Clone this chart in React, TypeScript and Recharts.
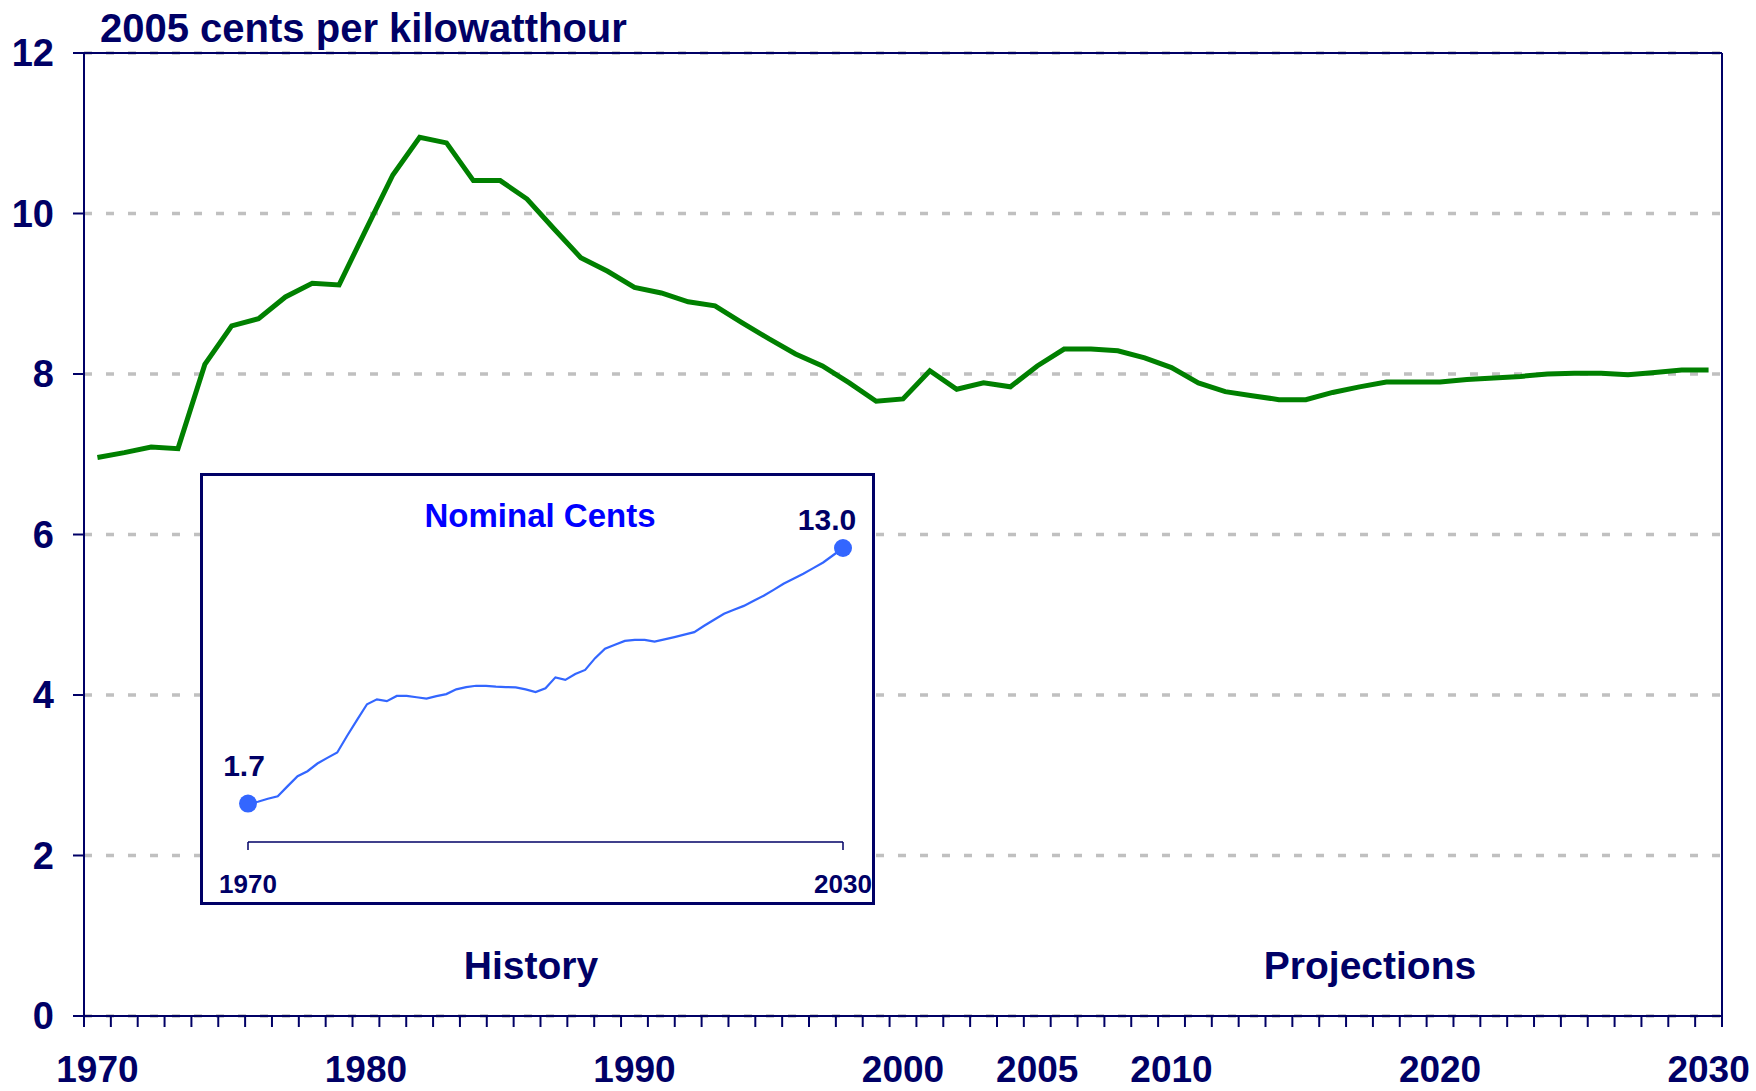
import { LineChart, Line, XAxis, YAxis, CartesianGrid, ReferenceLine } from 'recharts'

const years = [
  1970, 1971, 1972, 1973, 1974, 1975, 1976, 1977, 1978, 1979,
  1980, 1981, 1982, 1983, 1984, 1985, 1986, 1987, 1988, 1989,
  1990, 1991, 1992, 1993, 1994, 1995, 1996, 1997, 1998, 1999,
  2000, 2001, 2002, 2003, 2004, 2005, 2006, 2007, 2008, 2009,
  2010, 2011, 2012, 2013, 2014, 2015, 2016, 2017, 2018, 2019,
  2020, 2021, 2022, 2023, 2024, 2025, 2026, 2027, 2028, 2029,
  2030,
]

// 2005 cents per kWh
const realCents = [
  6.96, 7.02, 7.09, 7.07, 8.12, 8.6, 8.69, 8.96, 9.13, 9.11,
  9.8, 10.48, 10.95, 10.88, 10.41, 10.41, 10.18, 9.81, 9.45, 9.28,
  9.08, 9.01, 8.9, 8.85, 8.64, 8.44, 8.25, 8.1, 7.89, 7.66,
  7.69, 8.04, 7.81, 7.89, 7.84, 8.1, 8.31, 8.31, 8.29, 8.2,
  8.08, 7.89, 7.78, 7.73, 7.68, 7.68, 7.77, 7.84, 7.9, 7.9,
  7.9, 7.93, 7.95, 7.97, 8.0, 8.01, 8.01, 7.99, 8.02, 8.05,
  8.05,
]

// nominal cents per kWh (inset)
const nominalCents = [
  1.7, 1.78, 1.91, 2.02, 2.47, 2.91, 3.13, 3.47, 3.72, 3.96,
  4.7, 5.4, 6.09, 6.31, 6.23, 6.46, 6.46, 6.4, 6.34, 6.45,
  6.54, 6.75, 6.85, 6.91, 6.9, 6.87, 6.85, 6.84, 6.75, 6.63,
  6.8, 7.28, 7.17, 7.43, 7.61, 8.13, 8.55, 8.72, 8.89, 8.94,
  8.94, 8.86, 8.96, 9.06, 9.17, 9.28, 9.56, 9.83, 10.09, 10.27,
  10.44, 10.67, 10.89, 11.15, 11.42, 11.64, 11.86, 12.11, 12.36, 12.68,
  13.0,
]

const yearLabels = [1970, 1980, 1990, 2000, 2005, 2010, 2020, 2030]
const centTicks = [0, 2, 4, 6, 8, 10, 12]
const insetTicks = [1970, 2030]

const NAVY = '#000066'
const GREEN = '#008000'
const BLUE = '#3366ff'
const FONT = '"Liberation Sans", Arial, sans-serif'

const data = years.map((year, i) => ({ year, real: realCents[i], nominal: nominalCents[i] }))
// tick marks sit on the boundaries between years, labels on the year centres
const yearEdges = [...years.map((y) => y - 0.5), years[years.length - 1] + 0.5]
const lastIdx = years.length - 1

const NoLabel = () => <g />

function EndDot(props: any) {
  const { cx, cy, index, value } = props
  if (index !== 0 && index !== lastIdx) return <g key={`d${index}`} />
  const first = index === 0
  return (
    <g key={`d${index}`}>
      <circle cx={cx} cy={cy} r={9} fill={BLUE} />
      <text
        x={first ? cx - 4 : cx - 16}
        y={first ? cy - 28 : cy - 18}
        textAnchor="middle"
        fill={NAVY}
        fontSize={30}
        fontWeight={700}
        fontFamily={FONT}
      >
        {Number(value).toFixed(1)}
      </text>
    </g>
  )
}

export default function App() {
  return (
    <div style={{ position: 'absolute', left: 0, top: 0, width: 1756, height: 1091, background: '#fff' }}>
      <LineChart width={1756} height={1091} data={data} margin={{ top: 53, right: 34, bottom: 0, left: 0 }}>
        <ReferenceLine y={12} stroke={NAVY} strokeWidth={2} />
        <ReferenceLine x={2030.5} stroke={NAVY} strokeWidth={2} />
        <CartesianGrid vertical={false} stroke="#c0c0c0" strokeWidth={3.5} strokeDasharray="8 14" />
        <XAxis
          dataKey="year"
          type="number"
          domain={[1969.5, 2030.5]}
          allowDataOverflow
          ticks={yearEdges}
          interval={0}
          tick={NoLabel}
          tickSize={11}
          height={1}
          axisLine={{ stroke: NAVY, strokeWidth: 2 }}
          tickLine={{ stroke: NAVY, strokeWidth: 2 }}
        />
        <XAxis
          xAxisId="labels"
          dataKey="year"
          type="number"
          domain={[1969.5, 2030.5]}
          allowDataOverflow
          ticks={yearLabels}
          interval={0}
          axisLine={false}
          tickLine={false}
          tickSize={11}
          tickMargin={28}
          height={74}
          tick={{ fill: NAVY, fontSize: 37, fontWeight: 700, fontFamily: FONT }}
        />
        <YAxis
          domain={[0, 12]}
          allowDataOverflow
          ticks={centTicks}
          interval={0}
          width={84}
          tickSize={11}
          tickMargin={19}
          axisLine={{ stroke: NAVY, strokeWidth: 2 }}
          tickLine={{ stroke: NAVY, strokeWidth: 2 }}
          tick={{ fill: NAVY, fontSize: 38, fontWeight: 700, fontFamily: FONT }}
        />
        <Line dataKey="real" stroke={GREEN} strokeWidth={5} dot={false} isAnimationActive={false} />
      </LineChart>

      <div
        style={{
          position: 'absolute',
          left: 200,
          top: 473,
          width: 675,
          height: 432,
          border: `3px solid ${NAVY}`,
          boxSizing: 'border-box',
          background: '#fff',
        }}
      >
        <LineChart width={669} height={426} data={data} margin={{ top: 72, right: 29, bottom: 0, left: 45 }}>
          <XAxis
            dataKey="year"
            type="number"
            domain={[1970, 2030]}
            ticks={insetTicks}
            interval={0}
            height={60}
            tickSize={8}
            tickMargin={25}
            axisLine={{ stroke: NAVY, strokeWidth: 1.5 }}
            tickLine={{ stroke: NAVY, strokeWidth: 1.5 }}
            tick={{ fill: NAVY, fontSize: 26, fontWeight: 700, fontFamily: FONT }}
          />
          <YAxis hide domain={[0, 13]} />
          <Line dataKey="nominal" stroke={BLUE} strokeWidth={2.2} dot={EndDot} isAnimationActive={false} />
        </LineChart>
      </div>

      <svg
        width={1756}
        height={1091}
        style={{ position: 'absolute', left: 0, top: 0, pointerEvents: 'none' }}
        fontFamily={FONT}
        fontWeight={700}
      >
        <text x={100} y={42} fontSize={40} fill={NAVY}>
          2005 cents per kilowatthour
        </text>
        <text x={531} y={979} fontSize={39} fill={NAVY} textAnchor="middle">
          History
        </text>
        <text x={1370} y={979} fontSize={39} fill={NAVY} textAnchor="middle">
          Projections
        </text>
        <text x={540} y={527} fontSize={33} fill="#0000ff" textAnchor="middle">
          Nominal Cents
        </text>
      </svg>
    </div>
  )
}
